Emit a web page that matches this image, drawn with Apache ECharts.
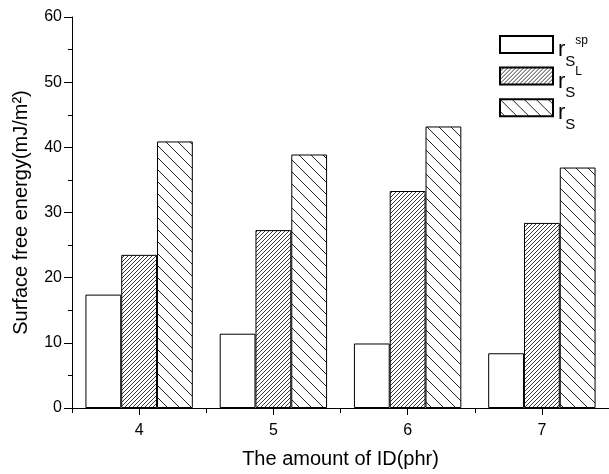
<!DOCTYPE html>
<html>
<head>
<meta charset="utf-8">
<script src="https://cdn.jsdelivr.net/npm/echarts@6/dist/echarts.min.js"></script>
<style>html,body{margin:0;padding:0;background:#fff;}#chart{width:609px;height:474px;}</style>
</head>
<body>
<div id="chart"></div>
<script>
const categories = ['4', '5', '6', '7'];
const rsSp = [17.4, 11.4, 9.9, 8.4];
const rsL = [23.5, 27.3, 33.3, 28.4];
const rsTotal = [40.9, 38.9, 43.2, 36.9];
const yTicks = { min: 0, max: 60, interval: 10 };
const seriesNames = ['r_S^sp', 'r_S^L', 'r_S'];
const legendLabels = {
  'r_S^sp': '{r|r}{s|S}{p|sp}',
  'r_S^L': '{r|r}{s|S}{p|L}',
  'r_S': '{r|r}{s|S}'
};

function makeHatch(period, dir, color, lw) {
  const c = document.createElement('canvas');
  c.width = period; c.height = period;
  const ctx = c.getContext('2d');
  ctx.fillStyle = '#fff';
  ctx.fillRect(0, 0, period, period);
  ctx.strokeStyle = color;
  ctx.lineWidth = lw;
  ctx.beginPath();
  for (const k of [-period, 0, period]) {
    if (dir === '/') { ctx.moveTo(k, period); ctx.lineTo(k + period, 0); }
    else { ctx.moveTo(k, 0); ctx.lineTo(k + period, period); }
  }
  ctx.stroke();
  return c;
}
const fwd = { image: makeHatch(4, '/', '#222', 0.9), repeat: 'repeat' };
const back = { image: makeHatch(12, '\\', '#222', 1), repeat: 'repeat' };

const FONT = '"Liberation Sans", Arial, sans-serif';
const chart = echarts.init(document.getElementById('chart'), null, { renderer: 'canvas' });
chart.setOption({
  animation: false,
  backgroundColor: '#fff',
  textStyle: { fontFamily: FONT, color: '#000' },
  grid: { left: 72, top: 17, width: 538, height: 392 },
  legend: {
    orient: 'vertical',
    left: 494,
    top: 28.5,
    itemWidth: 53,
    itemHeight: 17,
    itemGap: -21,
    icon: 'rect',
    data: seriesNames,
    formatter: n => legendLabels[n],
    textStyle: {
      fontFamily: FONT, color: '#000',
      rich: {
        r: { fontSize: 22, lineHeight: 22, padding: [5.6, 0, 0, 0], verticalAlign: 'top', fontFamily: FONT },
        s: { fontSize: 15, lineHeight: 15, padding: [20.6, 0, 17, 0], verticalAlign: 'top', fontFamily: FONT },
        p: { fontSize: 12, lineHeight: 12, padding: [1, 0, 0, 0], verticalAlign: 'top', fontFamily: FONT }
      }
    }
  },
  xAxis: [
    {
      type: 'category',
      data: categories,
      position: 'bottom',
      boundaryGap: true,
      name: 'The amount of ID(phr)',
      nameLocation: 'middle',
      nameGap: 41,
      nameTextStyle: { fontSize: 20, color: '#000', fontFamily: FONT },
      axisLine: { show: true, lineStyle: { color: '#000', width: 1 } },
      axisTick: { show: true, alignWithLabel: true, length: 7, lineStyle: { color: '#000' } },
      axisLabel: { fontSize: 16, color: '#000', margin: 15, fontFamily: FONT },
      splitLine: { show: false }
    },
    {
      type: 'category',
      data: categories,
      position: 'bottom',
      boundaryGap: true,
      axisLine: { show: false },
      axisTick: { show: true, length: 5, lineStyle: { color: '#000' } },
      axisLabel: { show: false },
      splitLine: { show: false }
    }
  ],
  yAxis: {
    type: 'value',
    min: yTicks.min,
    max: yTicks.max,
    interval: yTicks.interval,
    name: 'Surface free energy(mJ/m²)',
    nameLocation: 'middle',
    nameGap: 41,
    nameTextStyle: { fontSize: 20, color: '#000', fontFamily: FONT },
    axisLine: { show: true, lineStyle: { color: '#000', width: 1 } },
    axisTick: { show: true, length: 8, lineStyle: { color: '#000' } },
    minorTick: { show: true, splitNumber: 2, length: 4, lineStyle: { color: '#000' } },
    axisLabel: { fontSize: 16, color: '#000', margin: 10, fontFamily: FONT },
    splitLine: { show: false }
  },
  series: [
    {
      name: seriesNames[0], type: 'bar', data: rsSp, xAxisIndex: 0,
      barGap: '0%', barCategoryGap: '20%',
      itemStyle: { color: '#fff', borderColor: '#000', borderWidth: 1 }
    },
    {
      name: seriesNames[1], type: 'bar', data: rsL, xAxisIndex: 0,
      barGap: '0%', barCategoryGap: '20%',
      itemStyle: { color: fwd, borderColor: '#000', borderWidth: 1 }
    },
    {
      name: seriesNames[2], type: 'bar', data: rsTotal, xAxisIndex: 0,
      barGap: '0%', barCategoryGap: '20%',
      itemStyle: { color: back, borderColor: '#000', borderWidth: 1 }
    }
  ]
});
</script>
</body>
</html>
